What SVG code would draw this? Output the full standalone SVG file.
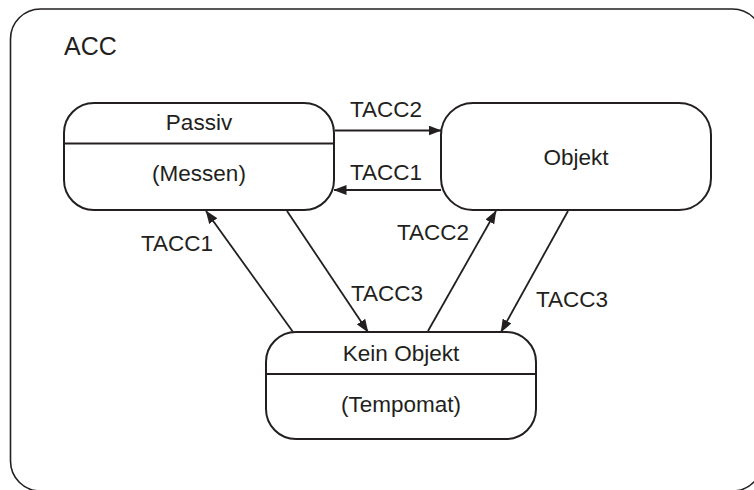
<svg xmlns="http://www.w3.org/2000/svg" width="754" height="490" viewBox="0 0 754 490">
  <defs>
    <style>
      .frame { fill: #ffffff; stroke: #231f20; stroke-width: 1.6; }
      .state { fill: #ffffff; stroke: #231f20; stroke-width: 2; }
      .sep { stroke: #231f20; stroke-width: 2; }
      .edge { fill: none; stroke: #231f20; stroke-width: 1.8; marker-end: url(#arrow); }
      text { font-family: "Liberation Sans", Arial, sans-serif; fill: #231f20; }
      .lbl { font-size: 22.5px; }
      .mid { text-anchor: middle; }
    </style>
    <marker id="arrow" viewBox="0 0 13 10" refX="12.5" refY="5" markerWidth="13" markerHeight="10" markerUnits="userSpaceOnUse" orient="auto">
      <path d="M0,0 L13,5 L0,10 Z" fill="#231f20"/>
    </marker>
  </defs>

  <!-- enclosing composite state -->
  <g id="acc">
    <rect class="frame" x="10.5" y="9" width="752" height="482" rx="30" ry="30"/>
    <text x="64" y="55" font-size="25">ACC</text>
  </g>

  <!-- transitions -->
  <g id="connectors">
    <line class="edge" x1="335" y1="130.5" x2="441" y2="130.5"/>
    <text class="lbl mid" x="386" y="117">TACC2</text>
    <line class="edge" x1="441" y1="190" x2="334" y2="190"/>
    <text class="lbl mid" x="386" y="180">TACC1</text>

    <line class="edge" x1="287" y1="211" x2="368" y2="332"/>
    <text class="lbl" x="351" y="301">TACC3</text>
    <line class="edge" x1="293" y1="332" x2="206" y2="211"/>
    <text class="lbl" x="141" y="251">TACC1</text>

    <line class="edge" x1="428" y1="331" x2="496" y2="211"/>
    <text class="lbl" x="397" y="240">TACC2</text>
    <line class="edge" x1="568" y1="211" x2="501" y2="332"/>
    <text class="lbl" x="536" y="307">TACC3</text>
  </g>

  <!-- states -->
  <g id="passiv">
    <rect class="state" x="64" y="103" width="270" height="107" rx="30" ry="30"/>
    <line class="sep" x1="64" y1="143.5" x2="334" y2="143.5"/>
    <text class="lbl mid" x="199" y="130">Passiv</text>
    <text class="lbl mid" x="199" y="181">(Messen)</text>
  </g>

  <g id="objekt">
    <rect class="state" x="441" y="103" width="270" height="107" rx="32" ry="32"/>
    <text class="lbl mid" x="576" y="165">Objekt</text>
  </g>

  <g id="kein-objekt">
    <rect class="state" x="266" y="332" width="270" height="107" rx="30" ry="30"/>
    <line class="sep" x1="266" y1="374" x2="536" y2="374"/>
    <text class="lbl mid" x="401" y="361">Kein Objekt</text>
    <text class="lbl mid" x="401" y="412">(Tempomat)</text>
  </g>
</svg>
